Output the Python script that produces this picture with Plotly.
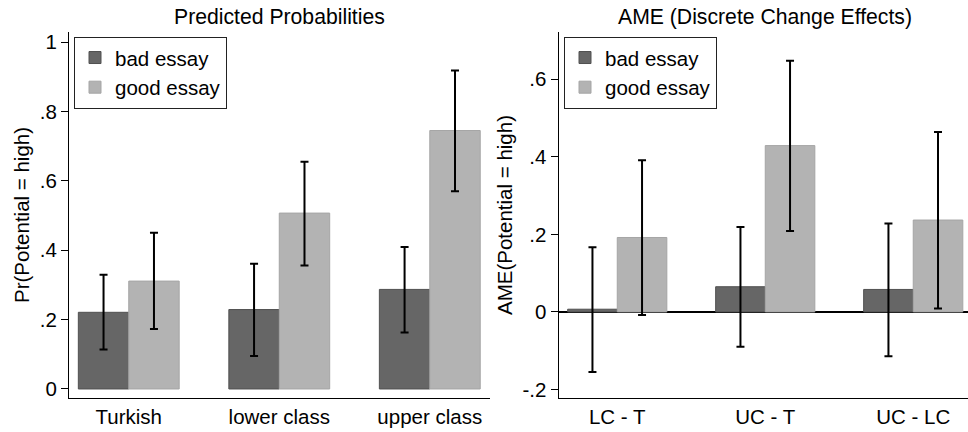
import plotly.graph_objects as go

# ---- data ----
pp_categories = ["Turkish", "lower class", "upper class"]
pp_bad = [0.221, 0.229, 0.287]
pp_bad_lo = [0.114, 0.095, 0.163]
pp_bad_hi = [0.329, 0.361, 0.409]
pp_good = [0.311, 0.507, 0.745]
pp_good_lo = [0.173, 0.356, 0.570]
pp_good_hi = [0.450, 0.655, 0.918]

ame_categories = ["LC - T", "UC - T", "UC - LC"]
ame_bad = [0.007, 0.065, 0.058]
ame_bad_lo = [-0.155, -0.090, -0.114]
ame_bad_hi = [0.167, 0.219, 0.228]
ame_good = [0.192, 0.429, 0.237]
ame_good_lo = [-0.008, 0.209, 0.009]
ame_good_hi = [0.391, 0.648, 0.464]

pp_ticks = [0, 0.2, 0.4, 0.6, 0.8, 1.0]
pp_ticktext = ["0", ".2", ".4", ".6", ".8", "1"]
ame_ticks = [-0.2, 0, 0.2, 0.4, 0.6]
ame_ticktext = ["-.2", "0", ".2", ".4", ".6"]

series_names = ["bad essay", "good essay"]

# ---- style ----
FONT = "Liberation Sans, Arial, sans-serif"
FS = 20.5
FS_TITLE = 21.2
BAD_FILL, BAD_LINE = "#666666", "#505050"
GOOD_FILL, GOOD_LINE = "#b3b3b3", "#a5a5a5"


def err(vals, lo, hi):
    return dict(type="data", symmetric=False,
                array=[h - v for v, h in zip(vals, hi)],
                arrayminus=[v - l for v, l in zip(vals, lo)],
                color="black", thickness=2, width=4)


fig = go.Figure()

specs = [
    (pp_categories, pp_bad, pp_bad_lo, pp_bad_hi, pp_good, pp_good_lo, pp_good_hi, "x", "y", "legend"),
    (ame_categories, ame_bad, ame_bad_lo, ame_bad_hi, ame_good, ame_good_lo, ame_good_hi, "x2", "y2", "legend2"),
]
for cats, b, blo, bhi, g, glo, ghi, xa, ya, lg in specs:
    fig.add_trace(go.Bar(x=cats, y=b, name=series_names[0], xaxis=xa, yaxis=ya, legend=lg,
                         marker=dict(color=BAD_FILL, line=dict(color=BAD_LINE, width=1)),
                         error_y=err(b, blo, bhi)))
    fig.add_trace(go.Bar(x=cats, y=g, name=series_names[1], xaxis=xa, yaxis=ya, legend=lg,
                         marker=dict(color=GOOD_FILL, line=dict(color=GOOD_LINE, width=1)),
                         error_y=err(g, glo, ghi)))

W, H = 968, 432
MT, MB = 32, 34
PH = H - MT - MB
left_dom = [69 / W, 490 / W]
right_dom = [558.5 / W, 1.0]


def py(pix):
    """paper y for a pixel row measured from the top of the figure"""
    return 1 - (pix - MT) / PH


xcommon = dict(showline=True, linecolor="black", linewidth=1, ticks="", showgrid=False,
               zeroline=False, tickfont=dict(size=FS, color="black"), automargin=False)
ycommon = dict(showline=True, linecolor="black", linewidth=1, ticks="outside", ticklen=7,
               tickcolor="black", tickwidth=1, showgrid=False,
               tickfont=dict(size=FS, color="black"), automargin=False,
               title_font=dict(size=FS, color="black"))

legend_common = dict(xanchor="left", yanchor="top", bordercolor="#222222", borderwidth=1,
                     bgcolor="white", font=dict(size=FS, color="black"),
                     traceorder="normal", tracegroupgap=0)

fig.update_layout(
    template="none",
    width=W, height=H,
    margin=dict(l=0, r=0, t=MT, b=MB),
    paper_bgcolor="white", plot_bgcolor="white",
    font=dict(family=FONT, size=FS, color="black"),
    barmode="group", bargap=0.33, bargroupgap=0,
    xaxis=dict(domain=left_dom, anchor="y", range=[-0.397, 2.4], **xcommon),
    yaxis=dict(domain=[0, 1], anchor="x", range=[-0.026, 1.029], tickvals=pp_ticks,
               ticktext=pp_ticktext, zeroline=False,
               title=dict(text="Pr(Potential = high)", standoff=4), **ycommon),
    xaxis2=dict(domain=right_dom, anchor="y2", range=[-0.397, 2.37], **xcommon),
    yaxis2=dict(domain=[0, 1], anchor="x2", range=[-0.222, 0.722], tickvals=ame_ticks,
                ticktext=ame_ticktext, zeroline=True, zerolinecolor="black", zerolinewidth=1.5,
                title=dict(text="AME(Potential = high)", standoff=4), **ycommon),
    legend=dict(x=74 / W, y=py(36.7), **legend_common),
    legend2=dict(x=564 / W, y=py(36.7), **legend_common),
    annotations=[
        dict(text="Predicted Probabilities", xref="paper", yref="paper",
             x=279.5 / W, y=py(16.5), xanchor="center", yanchor="middle",
             showarrow=False, font=dict(size=FS_TITLE, color="black")),
        dict(text="AME (Discrete Change Effects)", xref="paper", yref="paper",
             x=765 / W, y=py(16.5), xanchor="center", yanchor="middle",
             showarrow=False, font=dict(size=FS_TITLE, color="black")),
    ],
)

fig.write_html("out.html", config={"displayModeBar": False},
               post_script="document.body.style.margin='0';")
